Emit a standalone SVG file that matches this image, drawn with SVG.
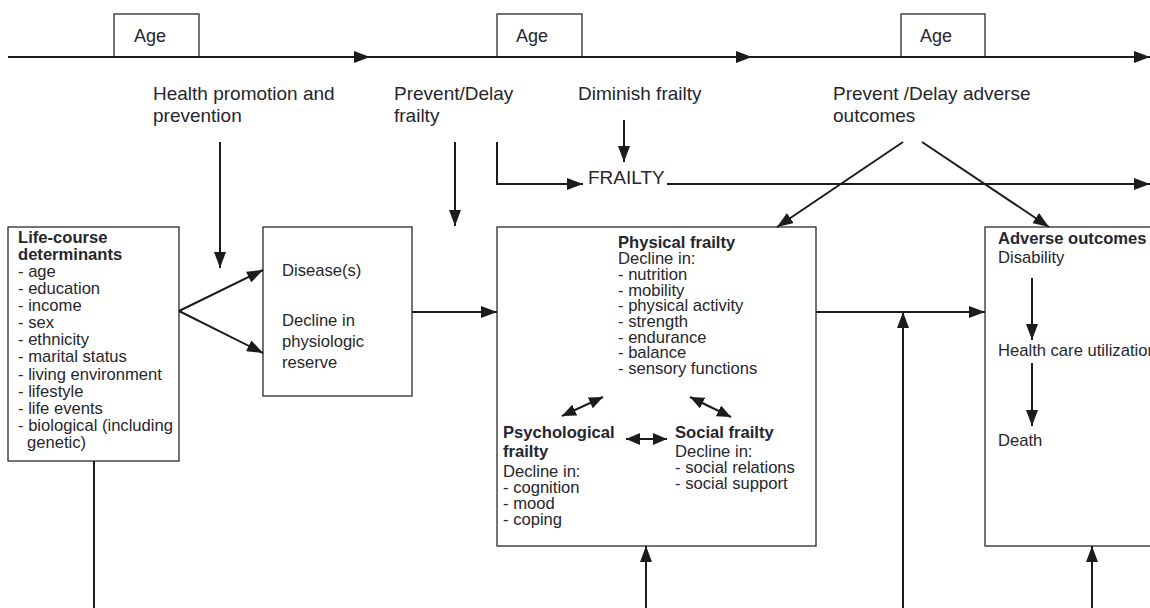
<svg xmlns="http://www.w3.org/2000/svg" width="1150" height="608" viewBox="0 0 1150 608">
  <defs>
    <marker id="ah" viewBox="0 0 16 12" refX="16" refY="6" markerWidth="16" markerHeight="12" markerUnits="userSpaceOnUse" orient="auto">
      <path d="M0,0 L16,6 L0,12 Z" fill="#1c1c1c"/>
    </marker>
    <marker id="ahs" viewBox="0 0 14 12" refX="14" refY="6" markerWidth="14" markerHeight="12" markerUnits="userSpaceOnUse" orient="auto-start-reverse">
      <path d="M0,0 L14,6 L0,12 Z" fill="#1c1c1c"/>
    </marker>
    <style>
      .box { fill: #fff; stroke: #2a2a2a; stroke-width: 1.3; }
      .ln { stroke: #1c1c1c; stroke-width: 2; fill: none; }
      .ar { stroke: #1c1c1c; stroke-width: 2; fill: none; marker-end: url(#ah); }
      .dbl { stroke: #1c1c1c; stroke-width: 2; fill: none; marker-start: url(#ahs); marker-end: url(#ahs); }
      text { font-family: "Liberation Sans", Arial, sans-serif; fill: #26262e; }
      .age { font-size: 18px; }
      .lbl { font-size: 19px; }
      .t { font-size: 16.6px; }
      .b { font-size: 16.6px; font-weight: bold; }
    </style>
  </defs>

  <!-- age timeline -->
  <g id="timeline">
    <rect class="box" x="114" y="14" width="85" height="43"/>
    <text class="age" x="134" y="42">Age</text>
    <rect class="box" x="497" y="14" width="85" height="43"/>
    <text class="age" x="516" y="42">Age</text>
    <rect class="box" x="901" y="14" width="84" height="43"/>
    <text class="age" x="920" y="42">Age</text>
    <line class="ar" x1="8" y1="57" x2="370" y2="57"/>
    <line class="ar" x1="370" y1="57" x2="752" y2="57"/>
    <line class="ar" x1="752" y1="57" x2="1150" y2="57"/>
  </g>

  <!-- intervention labels -->
  <g id="label-health-promotion">
    <text class="lbl" x="153" y="100">Health promotion and</text>
    <text class="lbl" x="153" y="122">prevention</text>
  </g>
  <g id="label-prevent-frailty">
    <text class="lbl" x="394" y="100">Prevent/Delay</text>
    <text class="lbl" x="394" y="122">frailty</text>
  </g>
  <g id="label-diminish">
    <text class="lbl" x="578" y="100">Diminish frailty</text>
  </g>
  <g id="label-prevent-adverse">
    <text class="lbl" x="833" y="100">Prevent /Delay adverse</text>
    <text class="lbl" x="833" y="122">outcomes</text>
  </g>
  <g id="frailty-line">
    <text class="lbl" x="588" y="184">FRAILTY</text>
  </g>

  <!-- nodes -->
  <g id="life-course">
    <rect class="box" x="8" y="227" width="171" height="234"/>
    <text class="b" x="18" y="243">Life-course</text>
    <text class="b" x="18" y="260">determinants</text>
    <text class="t" x="18" y="277">- age</text>
    <text class="t" x="18" y="294">- education</text>
    <text class="t" x="18" y="311">- income</text>
    <text class="t" x="18" y="328">- sex</text>
    <text class="t" x="18" y="345">- ethnicity</text>
    <text class="t" x="18" y="362">- marital status</text>
    <text class="t" x="18" y="380">- living environment</text>
    <text class="t" x="18" y="397">- lifestyle</text>
    <text class="t" x="18" y="414">- life events</text>
    <text class="t" x="18" y="431">- biological (including</text>
    <text class="t" x="27" y="448">genetic)</text>
  </g>

  <g id="disease">
    <rect class="box" x="263" y="227" width="149" height="169"/>
    <text class="t" x="282" y="276">Disease(s)</text>
    <text class="t" x="282" y="326">Decline in</text>
    <text class="t" x="282" y="347">physiologic</text>
    <text class="t" x="282" y="368">reserve</text>
  </g>

  <g id="frailty">
    <rect class="box" x="497" y="227" width="319" height="319"/>
    <text class="b" x="618" y="248">Physical frailty</text>
    <text class="t" x="618" y="264">Decline in:</text>
    <text class="t" x="618" y="280">- nutrition</text>
    <text class="t" x="618" y="296">- mobility</text>
    <text class="t" x="618" y="311">- physical activity</text>
    <text class="t" x="618" y="327">- strength</text>
    <text class="t" x="618" y="343">- endurance</text>
    <text class="t" x="618" y="358">- balance</text>
    <text class="t" x="618" y="374">- sensory functions</text>
    <text class="b" x="503" y="438">Psychological</text>
    <text class="b" x="503" y="457">frailty</text>
    <text class="t" x="503" y="477">Decline in:</text>
    <text class="t" x="503" y="493">- cognition</text>
    <text class="t" x="503" y="509">- mood</text>
    <text class="t" x="503" y="525">- coping</text>
    <text class="b" x="675" y="438">Social frailty</text>
    <text class="t" x="675" y="457">Decline in:</text>
    <text class="t" x="675" y="473">- social relations</text>
    <text class="t" x="675" y="489">- social support</text>
  </g>

  <g id="adverse">
    <rect class="box" x="985" y="227" width="175" height="319"/>
    <text class="b" x="998" y="244">Adverse outcomes</text>
    <text class="t" x="998" y="263">Disability</text>
    <text class="t" x="998" y="356">Health care utilization</text>
    <text class="t" x="998" y="446">Death</text>
  </g>

  <!-- connectors -->
  <g id="connectors">
    <line class="ar" x1="220" y1="142" x2="220" y2="268"/>
    <line class="ar" x1="455" y1="142" x2="455" y2="226"/>
    <polyline class="ar" points="497,142 497,184 583,184"/>
    <line class="ar" x1="624" y1="120" x2="624" y2="162"/>
    <line class="ar" x1="667" y1="184" x2="1150" y2="184"/>
    <line class="ar" x1="903" y1="142" x2="777" y2="227"/>
    <line class="ar" x1="922" y1="142" x2="1049" y2="227"/>
    <line class="ar" x1="179" y1="311" x2="263" y2="270"/>
    <line class="ar" x1="179" y1="311" x2="263" y2="353"/>
    <line class="ar" x1="412" y1="312" x2="497" y2="312"/>
    <line class="ar" x1="816" y1="312" x2="985" y2="312"/>
    <line class="ar" x1="903" y1="608" x2="903" y2="312"/>
    <line class="ar" x1="646" y1="608" x2="646" y2="546"/>
    <line class="ar" x1="1092" y1="608" x2="1092" y2="546"/>
    <line class="ln" x1="94" y1="461" x2="94" y2="608"/>
    <line class="ar" x1="1032" y1="278" x2="1032" y2="340"/>
    <line class="ar" x1="1032" y1="363" x2="1032" y2="426"/>
    <line class="dbl" x1="562" y1="416" x2="603" y2="397"/>
    <line class="dbl" x1="690" y1="397" x2="731" y2="417"/>
    <line class="dbl" x1="626" y1="439" x2="667" y2="439"/>
  </g>
</svg>
